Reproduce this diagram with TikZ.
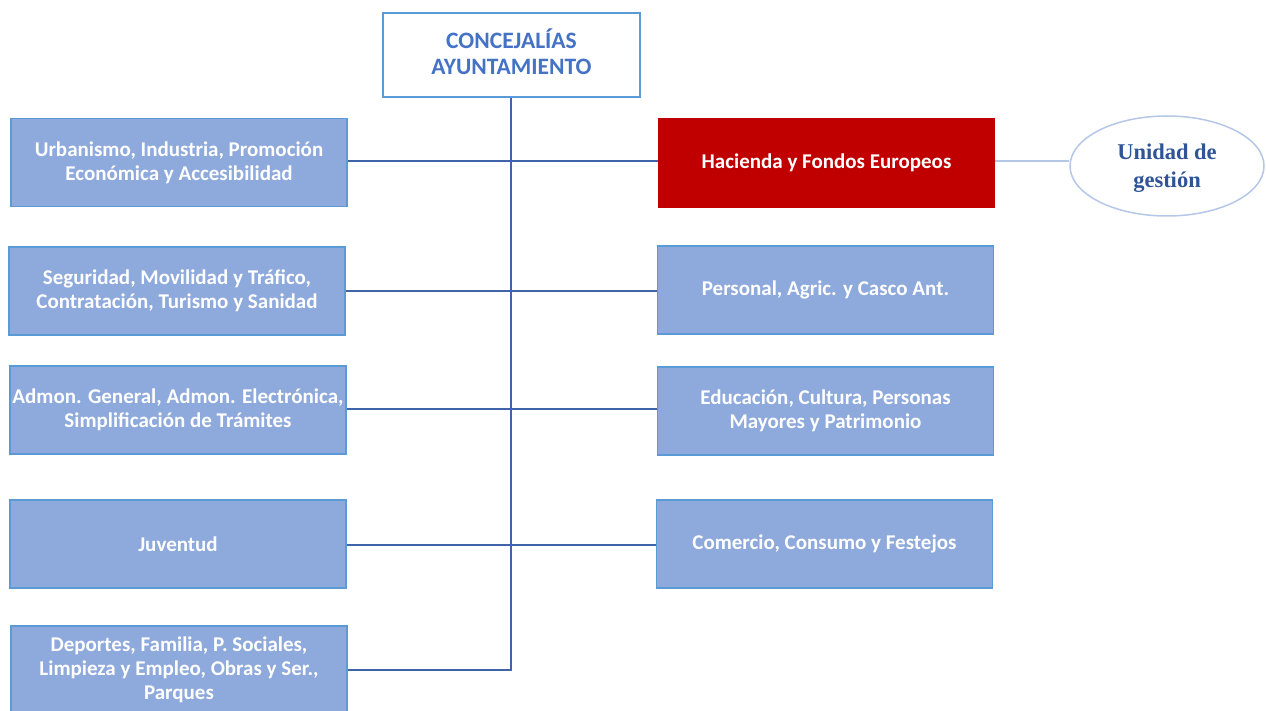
\documentclass[tikz,border=0pt]{standalone}
\usepackage{fontspec}
\setmainfont{Carlito}
\newfontfamily\serifb{Liberation Serif}
\usetikzlibrary{shapes.geometric}
\definecolor{boxfill}{HTML}{8EA9DB}
\definecolor{boxline}{HTML}{5B9BD5}
\definecolor{conn}{HTML}{3F64A8}
\definecolor{redfill}{HTML}{C00000}
\definecolor{toptext}{HTML}{4472C4}
\definecolor{elltext}{HTML}{2F5597}
\definecolor{elline}{HTML}{B4C7E7}
\tikzset{
  lbox/.style={draw=boxline, line width=1.5pt, fill=boxfill, text=white,
    minimum width=336pt, minimum height=88pt, inner sep=0pt, align=center,
    font=\fontsize{21}{24}\selectfont\bfseries},
  redbox/.style={lbox, fill=redfill, draw=redfill},
  topbox/.style={draw=boxline, line width=1.5pt, fill=white,
    minimum width=257pt, minimum height=84pt, inner sep=0pt},
  toplabel/.style={text=toptext, inner sep=0pt, align=center,
    font=\fontsize{23.5}{26}\selectfont\bfseries},
  ellnode/.style={ellipse, draw=elline, line width=1.5pt, fill=white,
    minimum width=194pt, minimum height=100pt, inner sep=0pt},
  elllabel/.style={text=elltext, inner sep=0pt, align=center,
    font=\serifb\fontsize{22.5}{28}\selectfont\bfseries},
  connector/.style={draw=conn, line width=2.2pt},
  lightconn/.style={draw=elline, line width=2pt}
}
\begin{document}
\begin{tikzpicture}[x=1pt,y=-1pt]
\useasboundingbox (0,0) rectangle (1266,711);
% nodes
\node[topbox] (top) at (511.5,55) {};
\node[toplabel] (toptxt) at (511.5,52) {CONCEJALÍAS\\AYUNTAMIENTO};
\node[lbox] (l1) at (179,162.5) {Urbanismo, Industria, Promoción\\Económica y Accesibilidad};
\node[lbox] (l2) at (177,291) {Seguridad, Movilidad y Tráfico,\\Contratación, Turismo y Sanidad};
\node[lbox] (l3) at (178,410) {Admon. General, Admon. Electrónica,\\Simplificación de Trámites};
\node[lbox] (l4) at (178,544) {Juventud};
\node[lbox] (l5) at (179,670) {Deportes, Familia, P. Sociales,\\Limpieza y Empleo, Obras y Ser.,\\Parques};
\node[redbox] (r1) at (826.5,163) {Hacienda y Fondos Europeos};
\node[lbox] (r2) at (825.5,290) {Personal, Agric. y Casco Ant.};
\node[lbox] (r3) at (825.5,411) {Educación, Cultura, Personas\\Mayores y Patrimonio};
\node[lbox] (r4) at (824.5,544) {Comercio, Consumo y Festejos};
\node[ellnode] (ug) at (1167,166) {};
\node[elllabel] (ugtxt) at (1167,168.5) {Unidad de\\gestión};
\coordinate (trunkend) at (511,670);
% connectors
\draw[connector] (top.south -| trunkend) -- (trunkend) -- (l5.east |- trunkend);
\draw[connector] (l1.east |- 0,161) -- (r1.west |- 0,161);
\draw[connector] (l2.east |- 0,291) -- (r2.west |- 0,291);
\draw[connector] (l3.east |- 0,409) -- (r3.west |- 0,409);
\draw[connector] (l4.east |- 0,545) -- (r4.west |- 0,545);
\draw[lightconn] (r1.east |- 0,161) -- (ug.west |- 0,161);
\end{tikzpicture}
\end{document}
